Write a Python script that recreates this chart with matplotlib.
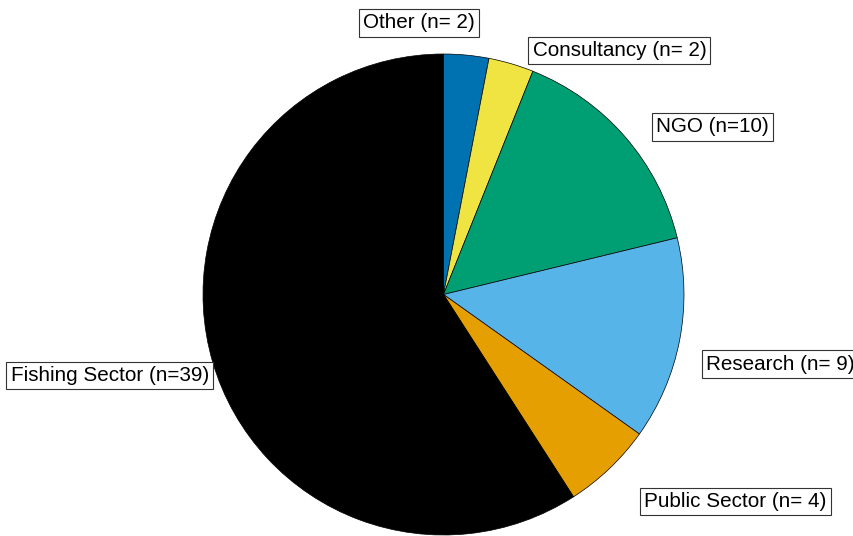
import numpy as np
import matplotlib
matplotlib.use("Agg")
import matplotlib.pyplot as plt

# Respondent groups and counts
categories = ["Other", "Consultancy", "NGO", "Research", "Public Sector", "Fishing Sector"]
counts = [2, 2, 10, 9, 4, 39]
labels = ["Other (n= 2)", "Consultancy (n= 2)", "NGO (n=10)", "Research (n= 9)",
          "Public Sector (n= 4)", "Fishing Sector (n=39)"]
colors = ["#0072B2", "#F0E442", "#009E73", "#56B4E9", "#E69F00", "#000000"]

# label placement: horizontal alignment and nudge (px, right / down) from the 1.1R anchor
label_ha = ["right", "left", "left", "left", "left", "right"]
label_nudge = [(6.4, -8.2), (14.5, 9.9), (12.6, 5.7), (2.8, 19.5), (18.0, 15.6), (19.2, 6.8)]

W, H, DPI = 854, 536, 100
fig = plt.figure(figsize=(W / DPI, H / DPI), dpi=DPI)
ax = fig.add_axes([0, 0, 1, 1])

R_px = 240.5
cx, cy = 443.5, 294.5

wedges, _ = ax.pie(counts, colors=colors, startangle=90, counterclock=False,
                   radius=1.0, center=(0, 0), frame=True,
                   wedgeprops=dict(edgecolor="black", linewidth=0.5))
ax.set_xlim(-cx / R_px, (W - cx) / R_px)
ax.set_ylim(-(H - cy) / R_px, cy / R_px)
ax.set_aspect("auto")
ax.axis("off")

for w, lab, ha, (dx, dy) in zip(wedges, labels, label_ha, label_nudge):
    mid = np.deg2rad((w.theta1 + w.theta2) / 2)
    x, y = 1.1 * np.cos(mid), 1.1 * np.sin(mid)
    ax.annotate(lab, xy=(x, y), xytext=(dx * 0.72, -dy * 0.72), textcoords="offset points",
                ha=ha, va="center", fontsize=14.9, family="Liberation Sans",
                bbox=dict(boxstyle="square,pad=0.2", facecolor="white",
                          edgecolor="#333333", linewidth=0.8))

fig.savefig("out.png", dpi=DPI)
